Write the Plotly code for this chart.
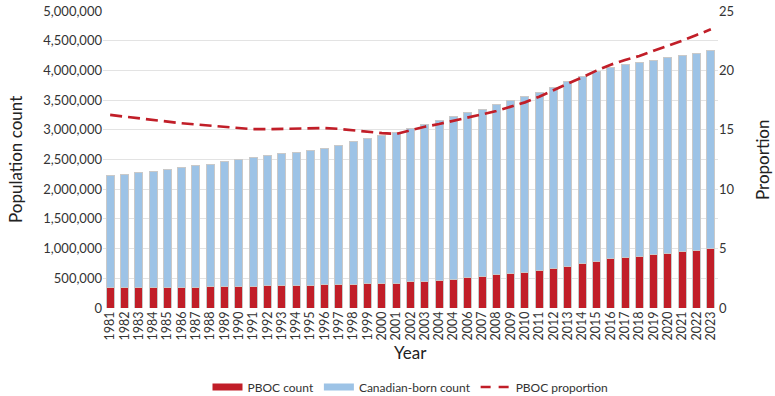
import plotly.graph_objects as go

years = ["1981", "1982", "1983", "1984", "1985", "1986", "1987", "1988", "1989", "1990",
         "1991", "1992", "1993", "1994", "1995", "1996", "1997", "1998", "1999", "2000",
         "2001", "2002", "2003", "2004", "2004", "2006", "2007", "2008", "2009", "2010",
         "2011", "2012", "2013", "2014", "2015", "2016", "2017", "2018", "2019", "2020",
         "2021", "2022", "2023"]

pboc_count = [345000, 345000, 346000, 348000, 350000, 350000, 353000, 357000, 360000, 362000,
              365000, 372000, 376000, 382000, 386000, 390000, 395000, 400000, 405000, 412000,
              420000, 438000, 449000, 471000, 488000, 510000, 533000, 556000, 578000, 600000,
              628000, 668000, 707000, 752000, 786000, 830000, 853000, 875000, 897000, 926000,
              948000, 976000, 1005000]

canadian_born_count = [1890000, 1910000, 1934000, 1958000, 1980000, 2007000, 2038000, 2067000, 2098000, 2135000,
                       2172000, 2192000, 2217000, 2244000, 2268000, 2292000, 2349000, 2395000, 2446000, 2495000,
                       2537000, 2589000, 2643000, 2683000, 2733000, 2773000, 2817000, 2867000, 2912000, 2964000,
                       3008000, 3047000, 3098000, 3137000, 3192000, 3227000, 3249000, 3266000, 3278000, 3288000,
                       3306000, 3317000, 3327000]

pboc_proportion = [16.25, 16.1, 15.95, 15.8, 15.65, 15.55, 15.45, 15.35, 15.2, 15.1,
                   15.05, 15.05, 15.07, 15.1, 15.13, 15.15, 15.08, 14.95, 14.82, 14.72,
                   14.65, 14.95, 15.26, 15.49, 15.74, 16.02, 16.3, 16.58, 16.95, 17.31,
                   17.79, 18.32, 18.91, 19.42, 19.98, 20.48, 20.88, 21.21, 21.66, 22.06,
                   22.5, 22.98, 23.46]

left_ticks = [0, 500000, 1000000, 1500000, 2000000, 2500000, 3000000, 3500000, 4000000, 4500000, 5000000]
left_tick_labels = ["0", "500,000", "1,000,000", "1,500,000", "2,000,000", "2,500,000",
                    "3,000,000", "3,500,000", "4,000,000", "4,500,000", "5,000,000"]
right_ticks = [0, 5, 10, 15, 20, 25]

x = list(range(len(years)))

RED = "#C11E28"
BLUE = "#9DC3E6"
FONT = "Lato, 'Open Sans', sans-serif"
TEXT = "#333333"
TITLE = "#222222"

fig = go.Figure()
fig.add_trace(go.Bar(x=x, y=pboc_count, name="PBOC count", showlegend=False,
                     marker=dict(color=RED, line=dict(color="#c9c9c9", width=1))))
fig.add_trace(go.Bar(x=x, y=canadian_born_count, name="Canadian-born count", showlegend=False,
                     marker=dict(color=BLUE, line=dict(color="#c9c9c9", width=1))))
fig.add_trace(go.Scatter(x=x, y=pboc_proportion, name="PBOC proportion", yaxis="y2",
                         mode="lines", showlegend=False,
                         line=dict(color=RED, width=2.7, dash="12px,6px")))

# legend-only entries (wide rectangle swatches like the reference)
fig.add_trace(go.Scatter(x=[None], y=[None], name="PBOC count", mode="lines",
                         line=dict(color=RED, width=7)))
fig.add_trace(go.Scatter(x=[None], y=[None], name="Canadian-born count", mode="lines",
                         line=dict(color=BLUE, width=7)))
fig.add_trace(go.Scatter(x=[None], y=[None], name="PBOC proportion", mode="lines",
                         line=dict(color=RED, width=2.7, dash="10px,8px")))

fig.update_layout(
    width=775, height=396,
    margin=dict(l=103, r=57, t=11, b=88, autoexpand=False),
    barmode="stack", bargap=0.44,
    paper_bgcolor="white", plot_bgcolor="white",
    font=dict(family=FONT, size=13, color=TEXT),
    showlegend=True,
    legend=dict(orientation="h", x=0.5, xanchor="center", y=-0.266, yanchor="middle",
                font=dict(size=12, color=TEXT), traceorder="normal", itemwidth=30,
                tracegroupgap=0),
    xaxis=dict(tickmode="array", tickvals=x, ticktext=years, tickangle=-90,
               range=[-0.5, len(years) - 0.5], showgrid=False, showline=False, zeroline=False,
               ticks="", tickfont=dict(size=12.5), automargin=False),
    yaxis=dict(range=[0, 5000000], tickmode="array", tickvals=left_ticks, ticktext=left_tick_labels,
               showgrid=True, gridcolor="#e3e3e3", gridwidth=1, zeroline=False, showline=False,
               ticks="", tickfont=dict(size=13), automargin=False),
    yaxis2=dict(range=[0, 25], tickmode="array", tickvals=right_ticks, overlaying="y", side="right",
                showgrid=False, zeroline=False, showline=False, ticks="", tickfont=dict(size=13),
                automargin=False),
    annotations=[
        dict(text="Year", xref="paper", yref="paper", x=0.5, y=(308 - 352) / 297,
             xanchor="center", yanchor="middle", showarrow=False, font=dict(size=17, color=TITLE)),
        dict(text="Population count", xref="paper", yref="paper", x=(15 - 103) / 615, y=(308 - 160) / 297,
             xanchor="center", yanchor="middle", showarrow=False, textangle=-90,
             font=dict(size=17, color=TITLE)),
        dict(text="Proportion", xref="paper", yref="paper", x=(762 - 103) / 615, y=(308 - 160) / 297,
             xanchor="center", yanchor="middle", showarrow=False, textangle=-90,
             font=dict(size=17, color=TITLE)),
    ],
)

fig.write_html("out.html")
